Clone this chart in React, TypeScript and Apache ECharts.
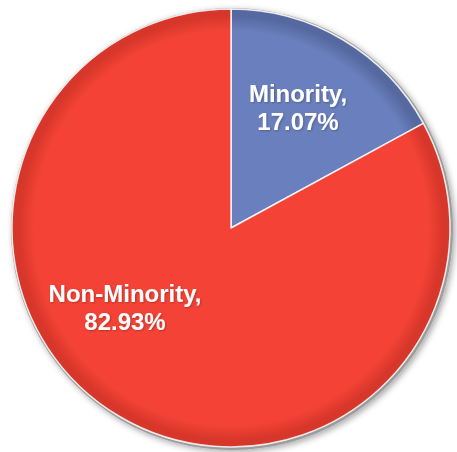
import React, { useEffect, useRef } from "react";
import * as echarts from "echarts";

const categories = ["Minority", "Non-Minority"];
const values = [17.07, 82.93];
const colors = ["#6A7FBD", "#F44336"];
const darkColors = ["#55689F", "#D7362A"];
const labelPos = [
  [298, 107],
  [125, 307],
];

export default function App() {
  const ref = useRef<HTMLDivElement>(null);
  useEffect(() => {
    document.body.style.margin = "0";
    const chart = echarts.init(ref.current!, null, { renderer: "svg" });
    const cx = 231;
    const cy = 228;
    const R = 219;
    const data = categories.map((name, i) => ({
      name,
      value: values[i],
      itemStyle: {
        color: new echarts.graphic.RadialGradient(cx, cy, R, [
          { offset: 0, color: colors[i] },
          { offset: 0.9, color: colors[i] },
          { offset: 0.97, color: darkColors[i] },
          { offset: 1, color: darkColors[i] },
        ], true),
      },
    }));
    chart.setOption({
      animation: false,
      backgroundColor: "#ffffff",
      series: [
        {
          type: "pie",
          silent: true,
          center: [cx + 1, cy + 1],
          radius: R + 2,
          startAngle: 90,
          label: { show: false },
          labelLine: { show: false },
          itemStyle: {
            color: "#9C9C9C",
            shadowBlur: 6,
            shadowColor: "rgba(0,0,0,0.35)",
            shadowOffsetX: 2,
            shadowOffsetY: 2,
          },
          data: [{ name: "bg", value: 1 }],
        },
        {
          type: "pie",
          center: [cx, cy],
          radius: R,
          startAngle: 90,
          clockwise: true,
          label: { show: false },
          labelLine: { show: false },
          itemStyle: {
            borderColor: "rgba(255,255,255,0.85)",
            borderWidth: 1.5,
          },
          data,
        },
      ],
      graphic: categories.map((name, i) => ({
        type: "text",
        x: labelPos[i][0],
        y: labelPos[i][1],
        z: 100,
        style: {
          text: name + ",\n" + values[i].toFixed(2) + "%",
          fill: "#ffffff",
          font: "bold 24px 'Liberation Sans', Arial, sans-serif",
          lineHeight: 28,
          align: "center",
          verticalAlign: "middle",
          textShadowColor: "rgba(0,0,0,0.25)",
          textShadowBlur: 2,
          textShadowOffsetX: 1,
          textShadowOffsetY: 1,
        },
      })),
    });
    return () => chart.dispose();
  }, []);
  return (
    <div
      ref={ref}
      style={{ position: "fixed", left: 0, top: 0, width: 457, height: 452 }}
    />
  );
}
